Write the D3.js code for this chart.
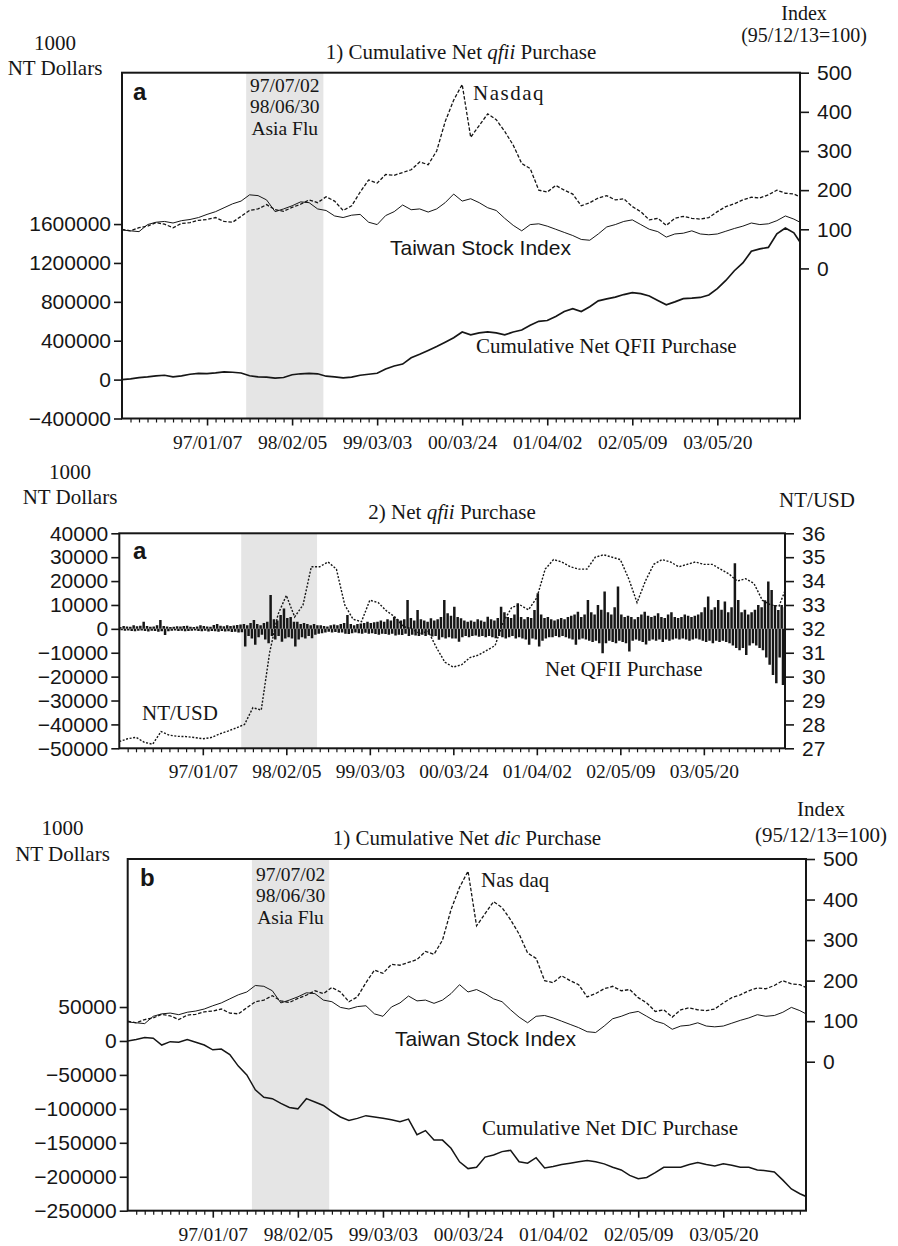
<!DOCTYPE html>
<html><head><meta charset="utf-8">
<script src="https://cdn.jsdelivr.net/npm/d3@7"></script>
<style>body{margin:0;background:#fff}svg{display:block}</style>
</head><body>
<svg id="c" width="898" height="1246"></svg>
<script>
// ---------- DATA ----------
const lastObs = 1993;                         // trading-day index of last observation
const majorTicks = [250, 500, 750, 1000, 1250, 1500, 1750];
const tickLabels = ["97/01/07", "98/02/05", "99/03/03", "00/03/24", "01/04/02", "02/05/09", "03/05/20"];
const asiaFlu = [365, 592];                   // 97/07/02 .. 98/06/30
const asiaFluLabels = ["97/07/02", "98/06/30", "Asia Flu"];

// series sampled every 25 trading days (last value = last observation)
const nasdaq = [100, 96, 104, 108, 117, 113, 104, 115, 117, 123,
  125, 130, 120, 118, 133, 148, 152, 163, 150, 146,
  156, 164, 175, 168, 183, 172, 148, 160, 195, 226,
  218, 240, 238, 245, 252, 272, 265, 300, 375, 430,
  470, 335, 365, 395, 380, 350, 315, 268, 255, 200,
  195, 212, 200, 190, 160, 168, 180, 186, 175, 178,
  158, 145, 124, 128, 110, 128, 133, 128, 126, 130,
  145, 158, 165, 175, 182, 180, 188, 200, 192, 190, 183];
const taiex = [98, 96, 94, 112, 118, 120, 116, 122, 125, 130,
  138, 145, 155, 165, 172, 188, 186, 175, 145, 152,
  160, 170, 168, 152, 148, 134, 130, 136, 138, 118,
  112, 135, 145, 162, 150, 152, 144, 152, 168, 190,
  172, 178, 168, 155, 148, 128, 110, 96, 112, 114,
  108, 100, 92, 84, 74, 72, 88, 106, 112, 120,
  124, 112, 100, 94, 80, 88, 90, 96, 88, 86,
  88, 95, 102, 108, 116, 112, 114, 122, 134, 126, 118];
const cumQfii = [0, 8000, 20000, 28000, 38000, 45000, 28000, 38000, 55000, 65000,
  62000, 70000, 80000, 76000, 68000, 40000, 28000, 25000, 15000, 22000,
  50000, 60000, 65000, 60000, 35000, 28000, 18000, 25000, 45000, 55000,
  65000, 110000, 140000, 160000, 225000, 260000, 300000, 340000, 385000, 430000,
  490000, 460000, 480000, 490000, 480000, 460000, 490000, 510000, 560000, 600000,
  608000, 650000, 700000, 730000, 700000, 750000, 810000, 830000, 848000, 875000,
  895000, 885000, 860000, 815000, 770000, 800000, 833000, 838000, 845000, 870000,
  935000, 1020000, 1120000, 1200000, 1320000, 1345000, 1360000, 1500000, 1560000, 1510000, 1414000];
const cumDic = [0, 2000, 5000, 4000, -6000, -1000, -2000, 2000, -2000, -6000,
  -13000, -12000, -20000, -37000, -50000, -72000, -83000, -85000, -92000, -98000,
  -100000, -85000, -90000, -95000, -104000, -112000, -117000, -114000, -110000, -112000,
  -114000, -116000, -119000, -115000, -138000, -132000, -146000, -146000, -158000, -178000,
  -188000, -186000, -171000, -168000, -163000, -161000, -178000, -180000, -172000, -187000,
  -185000, -182000, -180000, -178000, -176000, -178000, -181000, -186000, -190000, -198000,
  -203000, -201000, -194000, -186000, -186000, -186000, -182000, -179000, -182000, -184000,
  -181000, -183000, -186000, -186000, -190000, -191000, -193000, -205000, -218000, -225000, -229000];
const ntusd = [27.28, 27.4, 27.46, 27.25, 27.17, 27.7, 27.55, 27.5, 27.49, 27.45,
  27.4, 27.45, 27.6, 27.72, 27.85, 28.0, 28.7, 28.6, 31.0, 32.6,
  33.4, 32.5, 33.0, 34.6, 34.6, 34.8, 34.5, 33.0, 32.4, 32.3,
  33.2, 33.1, 32.75, 32.5, 32.1, 32.0, 31.8, 31.9, 31.2, 30.6,
  30.4, 30.5, 30.8, 30.9, 31.1, 31.3, 32.3, 32.9, 33.0, 32.8,
  33.3, 34.5, 34.9, 34.8, 34.6, 34.5, 34.5, 35.0, 35.1, 35.0,
  34.9, 34.1, 33.1, 34.0, 34.7, 34.9, 34.8, 34.6, 34.7, 34.8,
  34.7, 34.7, 34.5, 34.3, 34.0, 34.1, 33.9, 33.2, 33.0, 32.95, 33.6];

// daily net QFII purchase, summarised per 10-day bin: largest buy and largest sell
const netQfiiMax = [800, 1200, 1000, 900, 1500, 1100, 1300, 3000, 1200, 900,
  1000, 1500, 3700, 1200, 1000, 800, 900, 1100, 1000, 1200,
  1300, 900, 800, 1000, 1500, 1200, 1000, 900, 1600, 2000,
  1300, 1100, 1500, 1200, 1400, 1600, 1800,
  2000, 1500, 2500, 3700, 2000, 1500, 2500, 3000, 14200, 4000, 3500, 5800, 8500, 4500, 5000, 3000, 3000, 2000, 2500, 2000, 1500, 2000, 1500,
  1500, 1200, 1000, 1500, 1800, 1500, 2000, 2500, 5800, 2000,
  1500, 2000, 2200, 2500, 3000, 2500, 2800, 3000, 3500, 3000,
  4000, 3500, 5100, 4000, 3500, 4000, 12100, 4500, 3500, 7900,
  4000, 3500, 3000, 4400, 3500, 4000, 5000, 12100, 6500, 5500,
  9300, 5000, 4400, 3500, 3000, 3500, 3000, 4000, 3500, 3000,
  5100, 4000, 3500, 4500, 9300, 7000, 5000, 4500, 6000, 10700,
  5000, 4000, 5000, 4500, 7900, 14900, 6000, 4500, 5000, 4000,
  3500, 4000, 4500, 4000, 5000, 5500, 6000, 7200, 5000, 6000,
  12100, 7000, 6000, 10000, 8000, 15600, 7000, 6000, 9000, 17700,
  6000, 5000, 5500, 5000, 4000, 5000, 6000, 7200, 5500, 5000,
  5500, 6500, 5000, 4500, 6000, 7000, 5000, 4500, 5000, 6000,
  5500, 5000, 5500, 6000, 7000, 9000, 13500, 8000, 9000, 12100,
  8000, 11400, 7000, 9000, 27500, 12100, 7000, 8000, 6000, 7000,
  8000, 10000, 9000, 12000, 19800, 16300, 10000, 7900, 10000, 9000];
const netQfiiMin = [-600, -800, -700, -900, -1000, -800, -700, -900, -1100, -800,
  -900, -1200, -1000, -2600, -1000, -800, -700, -900, -800, -1000,
  -900, -800, -700, -900, -1000, -800, -1100, -900, -1000, -1200,
  -900, -1100, -1000, -1300, -1200, -1500, -1400,
  -7400, -3000, -4000, -6700, -3500, -2500, -4500, -6000, -3000, -4500, -3000, -5400, -4000, -3500, -4000, -7400, -4500, -3500, -4000, -3000, -3900, -2500, -2000,
  -1800, -1500, -1200, -1500, -1300, -1600, -1500, -2000, -2200, -1800,
  -1500, -1800, -2000, -1600, -2000, -1800, -2200, -2500, -2000, -2200,
  -2500, -2000, -2800, -2500, -2600, -2000, -3000, -2500, -2800, -3000,
  -2500, -3000, -2500, -3200, -3000, -4600, -3500, -4000, -3500, -4000,
  -4000, -5400, -3500, -3000, -3500, -3000, -2800, -3300, -3000, -3500,
  -3000, -3500, -3900, -3000, -3500, -4000, -3500, -3000, -4000, -3500,
  -4000, -4500, -6700, -4000, -4500, -7400, -5000, -4000, -3500, -3500,
  -3000, -3500, -3000, -3500, -4000, -4500, -6700, -4500, -4000, -4500,
  -5000, -5500, -5000, -6000, -10200, -6000, -5000, -5500, -6000, -5000,
  -5500, -6000, -9500, -5000, -4500, -5000, -5500, -6500, -5000, -4500,
  -5000, -4500, -5500, -4500, -5000, -4500, -4000, -4500, -4000, -4500,
  -5000, -4500, -4000, -4500, -5000, -5500, -5000, -6000, -5000, -5500,
  -5000, -5500, -6000, -7000, -8000, -9000, -8000, -10900, -7000, -6000,
  -7000, -8000, -9000, -12000, -15000, -19300, -22800, -12000, -23500, -14400];

const leftTicks1 = [-400000, 0, 400000, 800000, 1200000, 1600000];
const leftTicks2 = [-50000, -40000, -30000, -20000, -10000, 0, 10000, 20000, 30000, 40000];
const leftTicks3 = [-250000, -200000, -150000, -100000, -50000, 0, 50000];
const indexTicks = [0, 100, 200, 300, 400, 500];
const fxTicks = [27, 28, 29, 30, 31, 32, 33, 34, 35, 36];

// ---------- DRAWING ----------
const svg = d3.select("#c");
const SANS = "'Liberation Sans', Arial, Helvetica, sans-serif";
const SERIF = "'Liberation Serif', 'Times New Roman', Times, serif";
const INK = "#161616";
const obsAt = i => (i < 80 ? i * 25 : lastObs);
const minorTicks = d3.range(25, lastObs, 25).filter(v => v % 250 !== 0);
const fmt = d => (d < 0 ? "\u2212" + Math.abs(d) : String(d));

function text(sel, x, y, str, opt = {}) {
  return sel.append("text").attr("x", x).attr("y", y)
    .attr("font-family", opt.family || SERIF)
    .attr("font-size", opt.size || 21)
    .attr("font-weight", opt.weight || null)
    .attr("text-anchor", opt.anchor || "start")
    .attr("letter-spacing", opt.ls || null)
    .attr("fill", INK).text(str);
}
function stackText(sel, x, y, lines, gap, opt = {}) {
  const t = sel.append("text").attr("x", x).attr("y", y)
    .attr("font-family", opt.family || SERIF).attr("font-size", opt.size || 21)
    .attr("text-anchor", opt.anchor || "middle").attr("fill", INK);
  lines.forEach((s, i) => t.append("tspan").attr("x", x).attr("dy", i === 0 ? 0 : gap).text(s));
  return t;
}
function titleText(sel, x, y, a, it, b) {
  const t = sel.append("text").attr("x", x).attr("y", y).attr("font-family", SERIF)
    .attr("font-size", 21).attr("text-anchor", "middle").attr("fill", INK);
  t.append("tspan").text(a);
  t.append("tspan").attr("font-style", "italic").text(it);
  t.append("tspan").text(b);
}

function drawPanel(cfg) {
  const box = cfg.box;
  const g = svg.append("g");
  const x = d3.scaleLinear().domain([0, lastObs]).range([box.l, box.r]);
  const yL = d3.scaleLinear().domain(cfg.leftDomain).range([box.b, box.t]);
  const yR = d3.scaleLinear().domain(cfg.rightDomain).range([box.b, box.t]);
  const clipId = "clip" + cfg.id;
  svg.append("clipPath").attr("id", clipId).append("rect")
    .attr("x", box.l).attr("y", box.t).attr("width", box.r - box.l).attr("height", box.b - box.t);

  // shaded Asia Flu period
  g.append("rect").attr("x", x(asiaFlu[0])).attr("y", box.t)
    .attr("width", x(asiaFlu[1]) - x(asiaFlu[0])).attr("height", box.b - box.t)
    .attr("fill", "#e5e5e5");

  const plot = g.append("g").attr("clip-path", `url(#${clipId})`);
  cfg.draw(plot, x, yL, yR);

  // frame
  g.append("rect").attr("x", box.l).attr("y", box.t).attr("width", box.r - box.l)
    .attr("height", box.b - box.t).attr("fill", "none").attr("stroke", INK).attr("stroke-width", 2);

  const styleAxis = (a, size) => {
    a.select(".domain").remove();
    a.selectAll("line").attr("stroke", INK).attr("stroke-width", 1.6);
    a.selectAll("text").attr("fill", INK).attr("font-size", size);
  };
  const la = g.append("g").attr("transform", `translate(${box.l},0)`)
    .call(d3.axisLeft(yL).tickValues(cfg.leftTicks).tickSize(8).tickPadding(3).tickFormat(fmt))
    .attr("font-family", SANS);
  styleAxis(la, 21);
  const ra = g.append("g").attr("transform", `translate(${box.r},0)`)
    .call(d3.axisRight(yR).tickValues(cfg.rightTicks).tickSize(9).tickPadding(8).tickFormat(fmt))
    .attr("font-family", SANS);
  styleAxis(ra, 21);
  const ba = g.append("g").attr("transform", `translate(0,${box.b})`)
    .call(d3.axisBottom(x).tickValues(majorTicks).tickSize(7).tickFormat((d, i) => tickLabels[i]))
    .attr("font-family", SERIF);
  styleAxis(ba, 19.5);
  ba.selectAll("text").attr("y", 30).attr("dy", null);
  const mi = g.append("g").attr("transform", `translate(0,${box.b})`)
    .call(d3.axisBottom(x).tickValues(minorTicks).tickSize(4).tickFormat(""));
  styleAxis(mi, 10);
  mi.selectAll("line").attr("stroke-width", 1.2);

  // shade labels (three lines)
  if (cfg.shadeLabelY) {
    const cx = (x(asiaFlu[0]) + x(asiaFlu[1])) / 2;
    stackText(g, cx, cfg.shadeLabelY, asiaFluLabels, 21.8, {size: 19.5});
  }
  return {g, x, yL, yR};
}

function indexLines(plot, x, yR) {
  const ln = d3.line().x((d, i) => x(obsAt(i))).y(d => yR(d));
  plot.append("path").datum(taiex).attr("d", ln).attr("fill", "none")
    .attr("stroke", INK).attr("stroke-width", 1.0);
  plot.append("path").datum(nasdaq).attr("d", ln).attr("fill", "none")
    .attr("stroke", INK).attr("stroke-width", 1.3).attr("stroke-dasharray", "3.5,1.8");
}

// ----- Panel 1 : cumulative net QFII -----
drawPanel({
  id: 1, box: {l: 122, r: 800, t: 72.7, b: 418.5},
  leftDomain: [-400000, 3157000], rightDomain: [-383.4, 500],
  leftTicks: leftTicks1, rightTicks: indexTicks, shadeLabelY: 91.5,
  draw: (plot, x, yL, yR) => {
    indexLines(plot, x, yR);
    plot.append("path").datum(cumQfii)
      .attr("d", d3.line().x((d, i) => x(obsAt(i))).y(d => yL(d)))
      .attr("fill", "none").attr("stroke", INK).attr("stroke-width", 1.7);
  }
});
stackText(svg, 55, 50, ["1000", "NT Dollars"], 25);
titleText(svg, 461, 59, "1) Cumulative Net ", "qfii", " Purchase");
stackText(svg, 804, 19.5, ["Index", "(95/12/13=100)"], 22.5, {size: 20});
text(svg, 133, 100, "a", {family: SANS, weight: "bold", size: 24});
text(svg, 473, 100, "Nasdaq", {ls: 1.5});
text(svg, 390, 255, "Taiwan Stock Index", {family: SANS});
text(svg, 476, 353, "Cumulative Net QFII Purchase");

// ----- Panel 2 : daily net QFII and NT/USD -----
drawPanel({
  id: 2, box: {l: 119.3, r: 785, t: 533.3, b: 748.3},
  leftDomain: [-50000, 40000], rightDomain: [27, 36],
  leftTicks: leftTicks2, rightTicks: fxTicks,
  draw: (plot, x, yL, yR) => {
    const bins = netQfiiMax.map((mx, k) => ({k, mx, mn: netQfiiMin[k]}));
    const bx = (k, off) => x(Math.min(k * 10 + off, lastObs));
    plot.selectAll("line.buy").data(bins).join("line").attr("class", "buy")
      .attr("x1", d => bx(d.k, 3)).attr("x2", d => bx(d.k, 3))
      .attr("y1", yL(0)).attr("y2", d => yL(d.mx))
      .attr("stroke", INK).attr("stroke-width", 2.5);
    plot.selectAll("line.sell").data(bins).join("line").attr("class", "sell")
      .attr("x1", d => bx(d.k, 7)).attr("x2", d => bx(d.k, 7))
      .attr("y1", yL(0)).attr("y2", d => yL(d.mn))
      .attr("stroke", INK).attr("stroke-width", 2.5);
    plot.append("path").datum(ntusd)
      .attr("d", d3.line().x((d, i) => x(obsAt(i))).y(d => yR(d)))
      .attr("fill", "none").attr("stroke", INK).attr("stroke-width", 1.4).attr("stroke-dasharray", "2,1.6");
  }
});
stackText(svg, 70, 479, ["1000", "NT Dollars"], 25);
titleText(svg, 452, 519, "2) Net ", "qfii", " Purchase");
text(svg, 817, 507, "NT/USD", {anchor: "middle"});
text(svg, 133, 559, "a", {family: SANS, weight: "bold", size: 24});
text(svg, 142, 720, "NT/USD");
text(svg, 545, 676, "Net QFII Purchase");

// ----- Panel 3 : cumulative net DIC -----
drawPanel({
  id: 3, box: {l: 127.7, r: 806, t: 859, b: 1210.7},
  leftDomain: [-250000, 268000], rightDomain: [-367.5, 500],
  leftTicks: leftTicks3, rightTicks: indexTicks, shadeLabelY: 880.5,
  draw: (plot, x, yL, yR) => {
    indexLines(plot, x, yR);
    plot.append("path").datum(cumDic)
      .attr("d", d3.line().x((d, i) => x(obsAt(i))).y(d => yL(d)))
      .attr("fill", "none").attr("stroke", INK).attr("stroke-width", 1.5);
  }
});
stackText(svg, 62.5, 835, ["1000", "NT Dollars"], 26);
titleText(svg, 467, 845, "1) Cumulative Net ", "dic", " Purchase");
stackText(svg, 821, 816, ["Index", "(95/12/13=100)"], 26);
text(svg, 140, 886, "b", {family: SANS, weight: "bold", size: 24});
text(svg, 481, 887, "Nas daq");
text(svg, 395, 1046, "Taiwan Stock Index", {family: SANS});
text(svg, 482, 1135, "Cumulative Net DIC Purchase");
</script>
</body></html>
